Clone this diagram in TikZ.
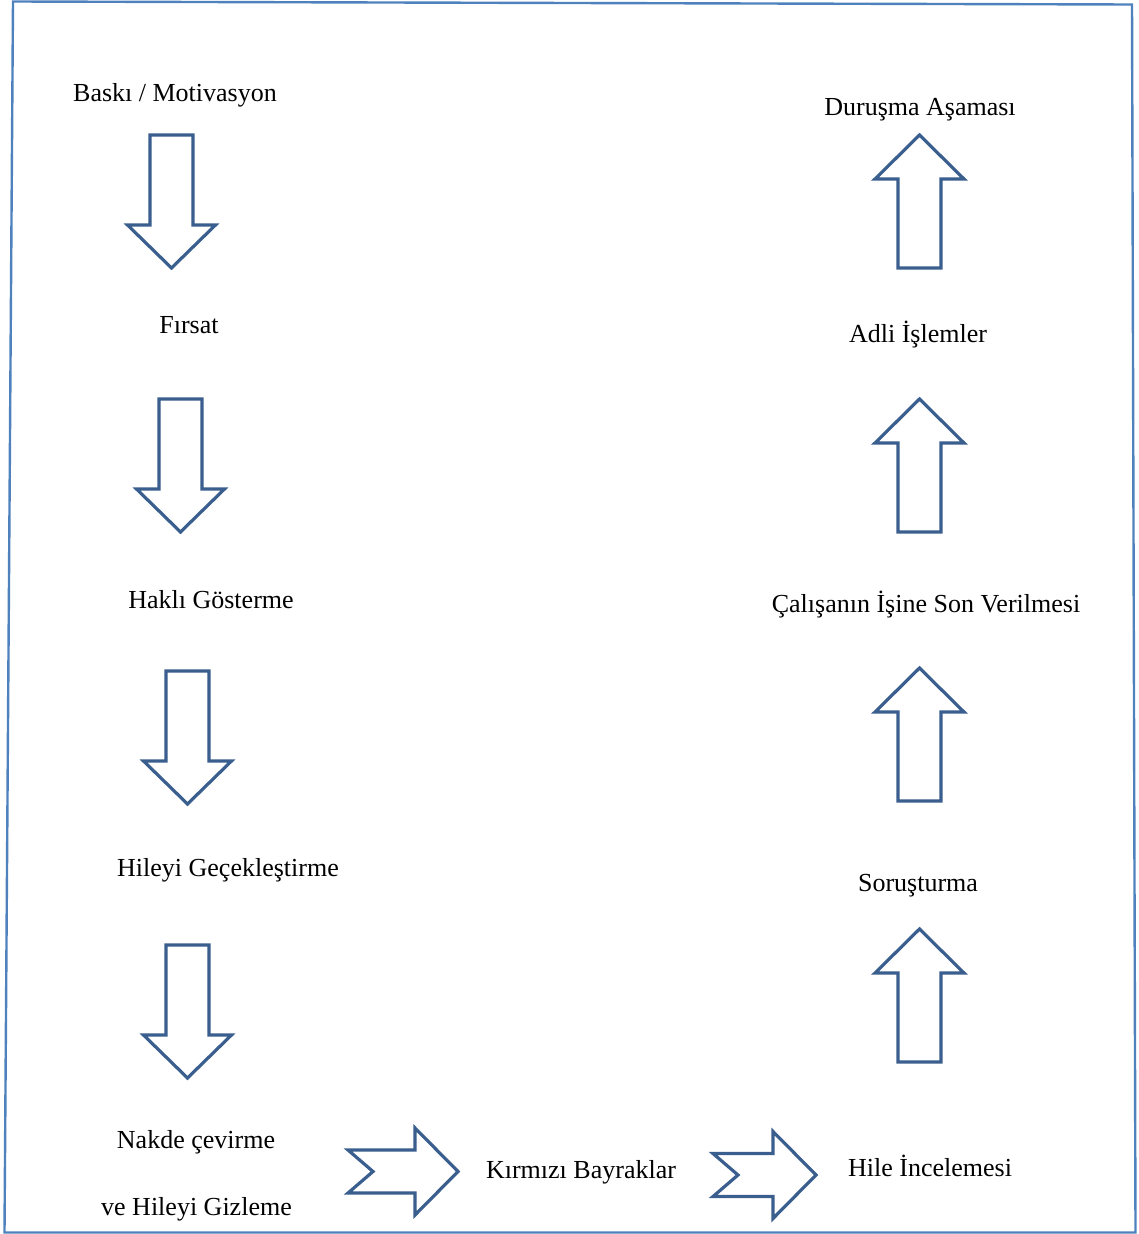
\documentclass[tikz,border=0pt]{standalone}
\usepackage{fontspec}
\setmainfont{Liberation Serif}
\definecolor{frameblue}{HTML}{4F81BD}
\definecolor{arrowblue}{HTML}{3A5F8E}
\tikzset{
  label/.style={inner sep=0pt, anchor=base, font=\fontsize{26}{31}\selectfont},
  blockarrow/.style={draw=arrowblue, line width=3.2pt, fill=white, line join=miter},
  % hollow arrow pointing down, origin at the top centre of the shaft
  pics/downarrow/.style={code={
    \draw[blockarrow] (-21.5,0) -- (21.5,0) -- (21.5,90) -- (44,90) -- (0,133)
      -- (-44,90) -- (-21.5,90) -- cycle;}},
  % hollow arrow pointing up, origin at the tip
  pics/uparrow/.style={code={
    \draw[blockarrow] (0,0) -- (44.5,44) -- (21.5,44) -- (21.5,133) -- (-21.5,133)
      -- (-21.5,44) -- (-44.5,44) -- cycle;}},
  % notched arrow pointing right, origin at the notch
  pics/notcharrow/.style={code={
    \draw[blockarrow] (0,0) -- (-25,-21.5) -- (#1,-21.5) -- (#1,-43.5) -- ({#1+43},0)
      -- (#1,43.5) -- (#1,21.5) -- (-25,21.5) -- cycle;}},
}
\begin{document}
\begin{tikzpicture}[x=1pt,y=-1pt]
  \useasboundingbox (0,0) rectangle (1139,1234);
  % slightly skewed page frame
  \draw[frameblue, line width=2.4pt] (13,1.5) -- (1132,4.5) -- (1135.5,1232.5) -- (4.5,1232.5) -- cycle;

  % left column: fraud triangle steps
  \node[label] (baski) at (175,101) {Baskı / Motivasyon};
  \node[label] (firsat) at (189,333) {Fırsat};
  \node[label] (hakli) at (211,608) {Haklı Gösterme};
  \node[label] (hileyi) at (228,876) {Hileyi Geçekleştirme};
  \node[label] (nakde) at (196,1148) {Nakde çevirme};
  \node[label] (gizleme) at (196.5,1215) {ve Hileyi Gizleme};

  % bottom row
  \node[label] (kirmizi) at (581,1178) {Kırmızı Bayraklar};
  \node[label] (inceleme) at (930,1176) {Hile İncelemesi};

  % right column: follow-up steps
  \node[label] (sorusturma) at (918,891) {Soruşturma};
  \node[label] (calisan) at (926,612) {Çalışanın İşine Son Verilmesi};
  \node[label] (adli) at (918,342) {Adli İşlemler};
  \node[label] (durusma) at (920,115) {Duruşma Aşaması};

  % downward arrows
  \pic at (171.5,135) {downarrow};
  \pic at (180.5,399) {downarrow};
  \pic at (187.5,671) {downarrow};
  \pic at (187.5,945) {downarrow};

  % upward arrows
  \pic at (919.5,135) {uparrow};
  \pic at (919.5,399) {uparrow};
  \pic at (919.5,668) {uparrow};
  \pic at (919.5,929) {uparrow};

  % rightward notched arrows
  \pic at (373,1171.5) {notcharrow=42};
  \pic at (738,1175) {notcharrow=35};
\end{tikzpicture}
\end{document}
